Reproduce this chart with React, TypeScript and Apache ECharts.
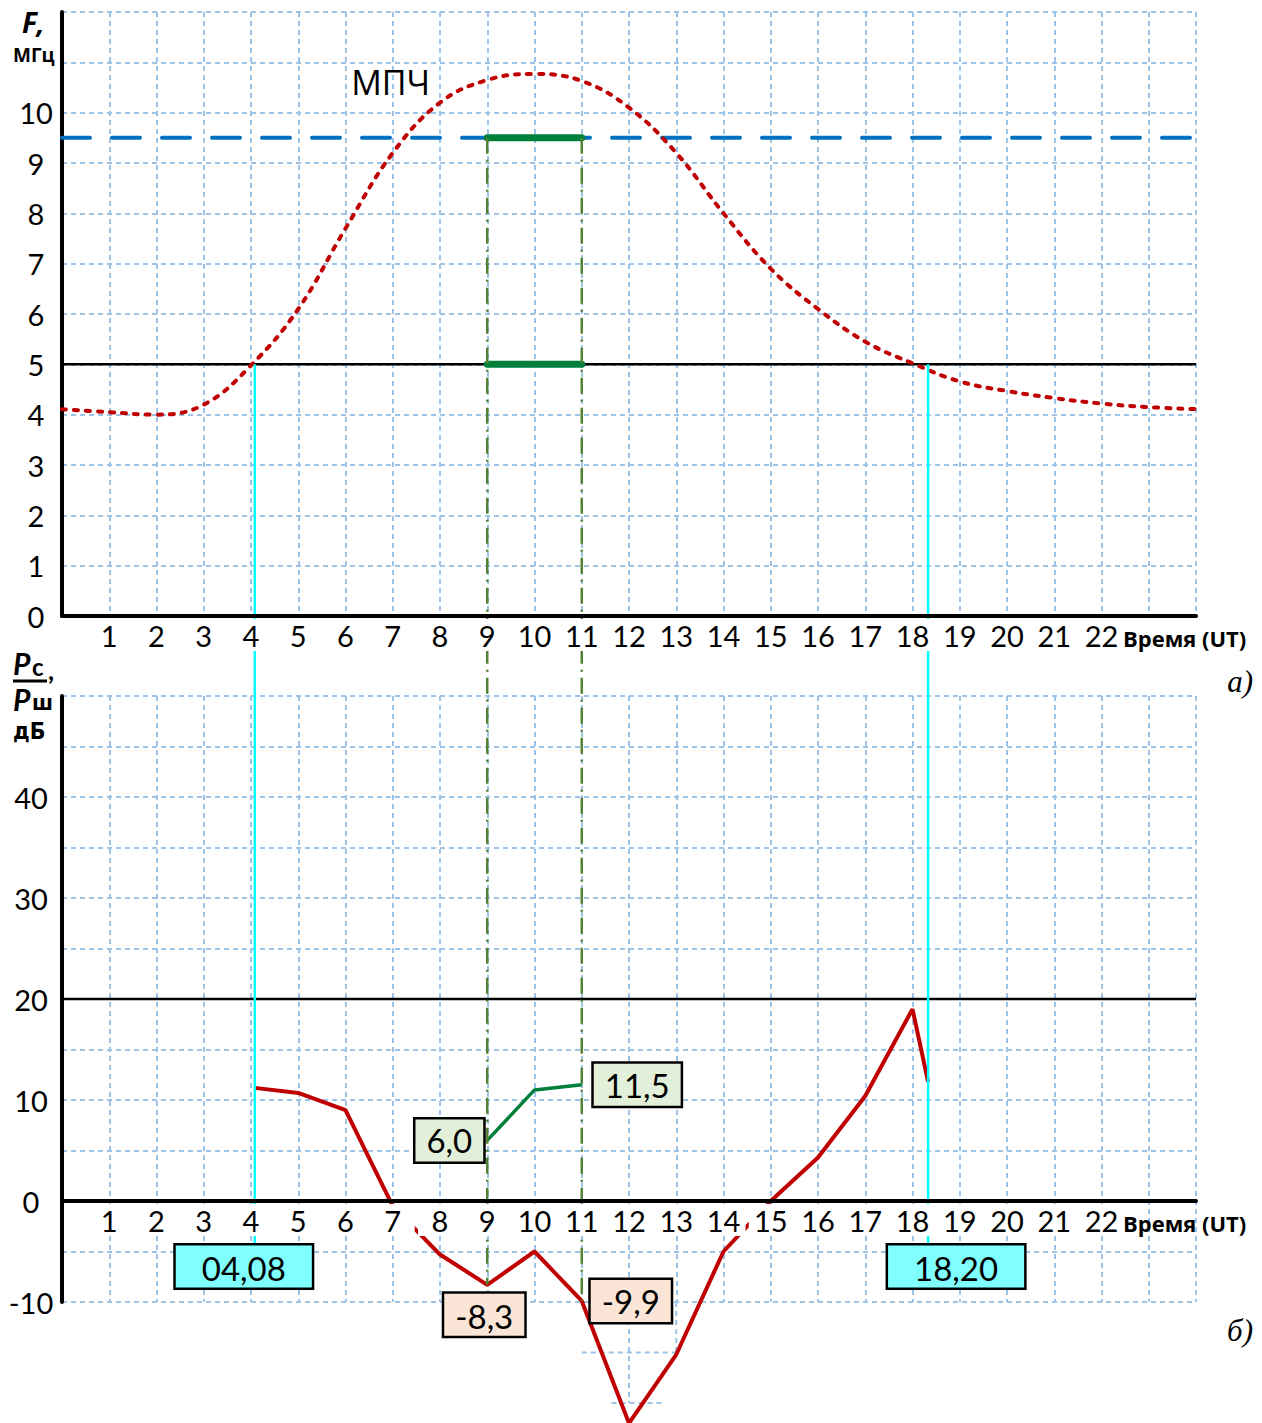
import React, { useEffect, useRef } from 'react';
import * as echarts from 'echarts';

// ---------- data ----------
const hours = [0, 1, 2, 3, 4, 5, 6, 7, 8, 9, 10, 11, 12, 13, 14, 15, 16, 17, 18, 19, 20, 21, 22, 23, 24];
const mpcMHz = [4.11, 4.05, 4.0, 4.2, 4.98, 6.1, 7.7, 9.2, 10.2, 10.65, 10.77, 10.63, 10.1, 9.2, 8.0, 6.9, 6.1, 5.45, 5.02, 4.66, 4.47, 4.33, 4.22, 4.15, 4.11];
const optimalFreq = 9.5;
const minFreq = 5;
const workStart = 9;
const workEnd = 11;
const crossTimes = [4.08, 18.33];
const crossLabels = ['04,08', '18,20'];

const snrHours = [4.08, 5, 6, 7, 8, 9, 10, 11, 12, 13, 14, 15, 16, 17, 18, 18.33];
const snrValues = [11.2, 10.7, 9.0, -0.5, -5.3, -8.3, -5.0, -9.9, -22.0, -15.2, -5.0, 0, 4.3, 10.4, 19.0, 11.8];
const optHours = [9, 10, 11];
const optSnr = [6.0, 11.0, 11.5];
const snrThreshold = 20;

const xTickLabels = ['1', '2', '3', '4', '5', '6', '7', '8', '9', '10', '11', '12', '13', '14', '15', '16', '17', '18', '19', '20', '21', '22'];
const topYTickLabels = ['0', '1', '2', '3', '4', '5', '6', '7', '8', '9', '10'];
const bottomYTickLabels = ['-10', '0', '10', '20', '30', '40'];

// ---------- layout / styles ----------
const GRID_LEFT = 62;
const GRID_WIDTH = 1134;
const TOP_GRID = { top: 12, height: 604 };
const BOTTOM_GRID = { top: 696, height: 606 };
const BOTTOM_MIN = -10;
const BOTTOM_MAX = 50;
// upper part (0..max) of bottom panel, used to place the x labels on the zero line
const BOTTOM_UPPER_HEIGHT = (BOTTOM_GRID.height * BOTTOM_MAX) / (BOTTOM_MAX - BOTTOM_MIN);

const GRID_COLOR = '#9DC3E6';
const NUM_FONT = 'Lato, "Open Sans", sans-serif';
const CYR_FONT = '"Open Sans", "Noto Sans", sans-serif';
const TIGHT_CYR_FONT = '"DejaVu Sans Condensed", "DejaVu Sans", sans-serif';
const RED = '#C00000';
const GREEN = '#00803A';

const splitLine = { show: true, lineStyle: { color: GRID_COLOR, type: [5, 4] as any, width: 2 } };

const xLabelAxis = (gridIndex: number) => ({
  type: 'value',
  gridIndex,
  position: 'bottom',
  min: 0,
  max: 24,
  interval: 1,
  z: 10,
  axisLine: { show: true, onZero: false, lineStyle: { color: '#000', width: 4 } },
  axisTick: { show: false },
  splitLine: { show: false },
  axisLabel: {
    show: true,
    margin: 3,
    formatter: (v: number) => (xTickLabels.includes(String(v)) ? `{b|${v}}` : ''),
    rich: {
      b: {
        backgroundColor: '#fff',
        width: 44,
        height: 32,
        lineHeight: 32,
        align: 'center',
        fontSize: 29,
        fontFamily: NUM_FONT,
        color: '#000',
      },
    },
  },
});

const xGridAxis = (gridIndex: number) => ({
  type: 'value',
  gridIndex,
  position: 'bottom',
  min: 0,
  max: 24,
  interval: 1,
  z: 0,
  axisLine: { show: false, onZero: false },
  axisTick: { show: false },
  axisLabel: { show: false },
  splitLine,
});

const lineSeries = (name: string, xi: number, yi: number, data: any[], lineStyle: any, extra: any = {}) => ({
  name,
  type: 'line',
  xAxisIndex: xi,
  yAxisIndex: yi,
  data,
  symbol: 'none',
  showSymbol: false,
  silent: true,
  lineStyle,
  ...extra,
});

const option: any = {
  animation: false,
  backgroundColor: '#fff',
  grid: [
    { left: GRID_LEFT, width: GRID_WIDTH, ...TOP_GRID },
    { left: GRID_LEFT, width: GRID_WIDTH, ...BOTTOM_GRID },
    { left: GRID_LEFT, width: GRID_WIDTH, top: BOTTOM_GRID.top, height: BOTTOM_UPPER_HEIGHT },
  ],
  xAxis: [xGridAxis(0), xLabelAxis(0), xGridAxis(1), xLabelAxis(2)],
  yAxis: [
    {
      type: 'value',
      gridIndex: 0,
      min: 0,
      max: 12,
      interval: 1,
      axisLine: { show: true, onZero: false, lineStyle: { color: '#000', width: 4 } },
      axisTick: { show: false },
      axisLabel: {
        margin: 26,
        align: 'center',
        padding: [8, 0, 0, 0],
        fontSize: 29,
        fontFamily: NUM_FONT,
        color: '#000',
        formatter: (v: number) => (topYTickLabels.includes(String(v)) ? String(v) : ''),
      },
      splitLine,
    },
    {
      type: 'value',
      gridIndex: 1,
      min: BOTTOM_MIN,
      max: BOTTOM_MAX,
      interval: 5,
      axisLine: { show: true, onZero: false, lineStyle: { color: '#000', width: 4 } },
      axisTick: { show: false },
      axisLabel: {
        margin: 31,
        align: 'center',
        padding: [18, 0, 0, 0],
        fontSize: 29,
        fontFamily: NUM_FONT,
        color: '#000',
        formatter: (v: number) => (bottomYTickLabels.includes(String(v)) ? String(v) : ''),
      },
      splitLine,
    },
    {
      type: 'value',
      gridIndex: 2,
      min: 0,
      max: BOTTOM_MAX,
      show: false,
      axisLine: { show: false, onZero: false },
      splitLine: { show: false },
    },
  ],
  series: [
    lineSeries('minFreq', 0, 0, [[0, minFreq], [24, minFreq]], { color: '#000', width: 2.5 }),
    lineSeries('optFreq', 0, 0, [[0, optimalFreq], [24, optimalFreq]], { color: '#0070C0', width: 4, type: [28, 22], cap: 'round' }),
    lineSeries('МПЧ', 0, 0, hours.map((h, i) => [h, mpcMHz[i]]), { color: RED, width: 4, type: [4, 8], cap: 'round' }, { smooth: 0.4 }),
    lineSeries('workTop', 0, 0, [[workStart, optimalFreq], [workEnd, optimalFreq]], { color: GREEN, width: 7, cap: 'round' }),
    lineSeries('workBottom', 0, 0, [[workStart, minFreq], [workEnd, minFreq]], { color: GREEN, width: 7, cap: 'round' }),
    lineSeries('threshold', 2, 1, [[0, snrThreshold], [24, snrThreshold]], { color: '#000', width: 2.5 }),
    lineSeries('snr', 2, 1, snrHours.map((h, i) => [h, snrValues[i]]), { color: RED, width: 4 }, { clip: false }),
    lineSeries('snrOpt', 2, 1, optHours.map((h, i) => [h, optSnr[i]]), { color: GREEN, width: 3.5 }),
  ],
};

export default function App() {
  const ref = useRef<HTMLDivElement>(null);
  useEffect(() => {
    const chart = echarts.init(ref.current!, null, { renderer: 'svg' });
    chart.setOption(option);

    const p0 = (x: number, y: number) => chart.convertToPixel({ xAxisIndex: 0, yAxisIndex: 0 }, [x, y]) as number[];
    const p1 = (x: number, y: number) => chart.convertToPixel({ xAxisIndex: 2, yAxisIndex: 1 }, [x, y]) as number[];

    const line = (a: number[], b: number[], style: any, z = 5) => ({
      type: 'line',
      z,
      silent: true,
      shape: { x1: a[0], y1: a[1], x2: b[0], y2: b[1] },
      style,
    });
    const text = (x: number, y: number, s: any, z = 20) => ({
      type: 'text',
      z,
      silent: true,
      x,
      y,
      style: { fill: '#000', ...s },
    });
    const box = (x: number, y: number, t: string, bg: string, align: string, vAlign: string, padding: number[]) =>
      text(x, y, {
        text: t,
        fontSize: 33,
        lineHeight: 38,
        fontFamily: NUM_FONT,
        backgroundColor: bg,
        borderColor: '#000',
        borderWidth: 2.5,
        padding,
        align,
        textAlign: align,
        verticalAlign: vAlign,
        textVerticalAlign: vAlign,
      });
    const fmt = (v: number) => v.toFixed(1).replace('.', ',');

    const gridDash = { stroke: GRID_COLOR, lineWidth: 2, lineDash: [5, 4] };
    const elements: any[] = [];

    // grid fragments below the bottom panel where the curve overflows
    elements.push(line(p1(11, -15), p1(13, -15), gridDash, 1));
    elements.push(line(p1(11.63, -20), p1(12.75, -20), gridDash, 1));
    elements.push(line(p1(12, -10), p1(12, -20), gridDash, 1));
    elements.push(line(p1(13, -10), p1(13, -15), gridDash, 1));

    // cyan crossing lines
    crossTimes.forEach((t) => {
      elements.push(line(p0(t, minFreq), p1(t, -5), { stroke: '#00FFFF', lineWidth: 2.5 }, 5));
    });
    // green dash-dot lines
    const dd = { stroke: '#548235', lineWidth: 2.5, lineDash: [16, 6, 2, 6] };
    const i9 = snrHours.indexOf(workStart);
    const i11 = snrHours.indexOf(workEnd);
    elements.push(line(p0(workStart, optimalFreq), p1(workStart, snrValues[i9]), dd, 5));
    elements.push(line(p0(workEnd, optimalFreq), p1(workEnd, snrValues[i11]), dd, 5));

    // value boxes
    const pad = [3, 11, 1, 11];
    const a60 = p1(optHours[0], optSnr[0]);
    elements.push(box(a60[0] - 4, a60[1], fmt(optSnr[0]), '#E2F0D9', 'right', 'middle', pad));
    const a115 = p1(optHours[2], optSnr[2]);
    elements.push(box(a115[0] + 12, a115[1], fmt(optSnr[2]), '#E2F0D9', 'left', 'middle', pad));
    const a83 = p1(workStart, snrValues[i9]);
    elements.push(box(a83[0] - 3, a83[1] + 9, fmt(snrValues[i9]), '#FBE5D6', 'center', 'top', pad));
    const a99 = p1(workEnd, snrValues[i11]);
    elements.push(box(a99[0] + 9, a99[1], fmt(snrValues[i11]), '#FBE5D6', 'left', 'middle', pad));
    const c0 = p1(crossTimes[0], -5);
    elements.push(box(c0[0] - 11, c0[1] - 6, crossLabels[0], '#80FFFF', 'center', 'top', [3, 26, 1, 26]));
    const c1 = p1(crossTimes[1], -5);
    elements.push(box(c1[0] + 28, c1[1] - 6, crossLabels[1], '#80FFFF', 'center', 'top', [3, 26, 1, 26]));

    // curve name
    const mp = p0(6.12, 10.6);
    elements.push(text(mp[0], mp[1], { text: 'МПЧ', fontSize: 34, fontFamily: CYR_FONT, align: 'left', textAlign: 'left', verticalAlign: 'middle', textVerticalAlign: 'middle' }));

    // axis titles
    const leftMid = { align: 'left', textAlign: 'left', verticalAlign: 'middle', textVerticalAlign: 'middle' };
    elements.push(text(22, 22, { text: 'F,', fontSize: 28, lineHeight: 28, fontWeight: 'bold', fontStyle: 'italic', fontFamily: CYR_FONT, ...leftMid }));
    elements.push(text(13, 55, { text: 'МГц', fontSize: 19, lineHeight: 20, fontWeight: 'bold', fontFamily: CYR_FONT, ...leftMid }));
    const xTitle = { text: 'Время (UT)', fontSize: 22, fontWeight: 'bold', fontFamily: CYR_FONT, ...leftMid };
    elements.push(text(1123, 638, xTitle));
    elements.push(text(1123, 1223, xTitle));
    const panelTag = { fontSize: 31, fontStyle: 'italic', fontFamily: '"Liberation Serif", serif', align: 'right', textAlign: 'right', verticalAlign: 'middle', textVerticalAlign: 'middle' };
    elements.push(text(1253, 681, { ...panelTag, text: 'a)' }));
    elements.push(text(1253, 1330, { ...panelTag, text: 'б)' }));

    // bottom y-axis title: Pс / Pш, дБ — three stacked rows with non-overlapping line boxes
    const pStyle = { fontSize: 30, lineHeight: 36, fontWeight: 'bold', fontStyle: 'italic', fontFamily: NUM_FONT, ...leftMid };
    elements.push(text(13, 663, { ...pStyle, text: 'P' }));
    elements.push(text(32, 666, { text: 'c', fontSize: 24, lineHeight: 28, fontWeight: 'bold', fontFamily: NUM_FONT, ...leftMid }));
    elements.push(text(48, 670, { text: ',', fontSize: 26, lineHeight: 24, fontWeight: 'bold', fontFamily: NUM_FONT, ...leftMid }));
    elements.push(line([13, 681], [47, 681], { stroke: '#000', lineWidth: 3 }, 21));
    elements.push(text(13, 699, { ...pStyle, text: 'P' }));
    elements.push(text(32, 702, { text: 'ш', fontSize: 22, lineHeight: 26, fontWeight: 'bold', fontFamily: TIGHT_CYR_FONT, ...leftMid }));
    elements.push(text(13, 731, { text: 'дБ', fontSize: 23, lineHeight: 27, fontWeight: 'bold', fontFamily: TIGHT_CYR_FONT, ...leftMid }));

    chart.setOption({ graphic: elements });
    return () => chart.dispose();
  }, []);
  return <div ref={ref} style={{ position: 'absolute', left: 0, top: 0, width: 1262, height: 1423, background: '#fff' }} />;
}
